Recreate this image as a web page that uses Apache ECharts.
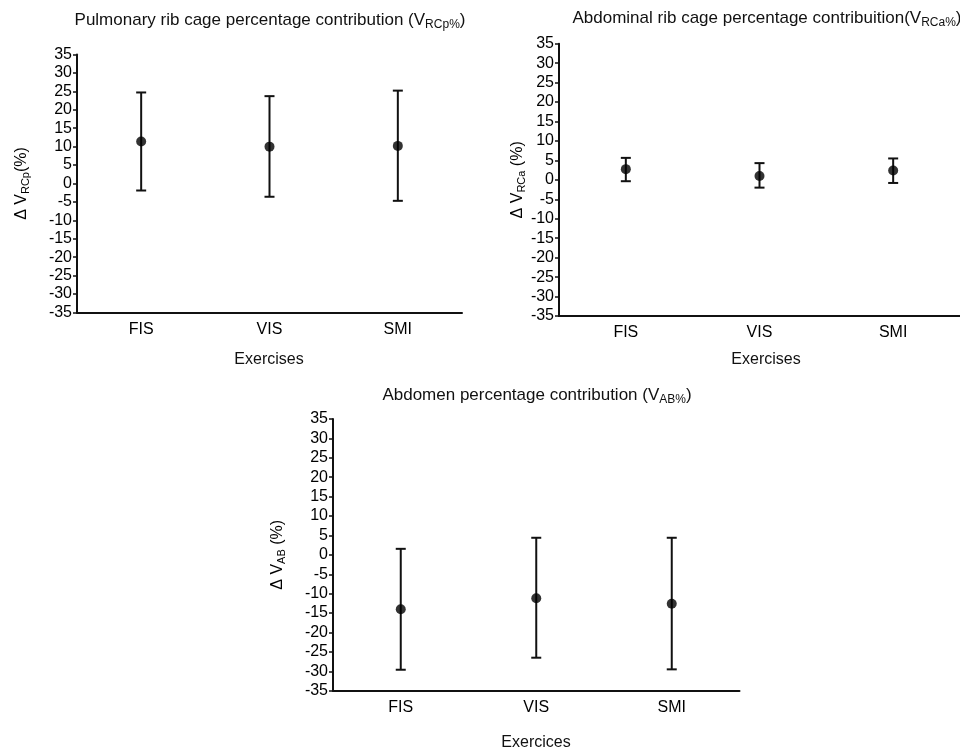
<!DOCTYPE html>
<html>
<head>
<meta charset="utf-8">
<script src="https://cdn.jsdelivr.net/npm/echarts@6/dist/echarts.min.js"></script>
<style>html,body{margin:0;padding:0;background:#fff}#c{width:960px;height:753px}</style>
</head>
<body>
<div id="c"></div>
<script>
const categories = ['FIS', 'VIS', 'SMI'];
const yTicks = { min: -35, max: 35, step: 5 };

const rcpMean = [11.4, 10.0, 10.2];
const rcpLow = [-1.9, -3.6, -4.7];
const rcpHigh = [24.7, 23.7, 25.2];

const rcaMean = [2.75, 1.0, 2.4];
const rcaLow = [-0.35, -2.0, -0.8];
const rcaHigh = [5.65, 4.3, 5.5];

const abMean = [-14.0, -11.2, -12.6];
const abLow = [-29.6, -26.5, -29.5];
const abHigh = [1.55, 4.4, 4.4];

const FONT = 'Liberation Sans, Arial, sans-serif';
const chart = echarts.init(document.getElementById('c'), null, { renderer: 'canvas' });

const grids = [
  { left: 77, top: 54.5, width: 385, height: 258 },
  { left: 559, top: 43.7, width: 410, height: 272.3 },
  { left: 333, top: 419, width: 406.5, height: 271.7 }
];

const titles = [
  { text: 'Pulmonary rib cage percentage contribution (V{s|RCp%})', x: 270, y: 20 },
  { text: 'Abdominal rib cage percentage contribuition(V{s|RCa%})', x: 767, y: 18 },
  { text: 'Abdomen percentage contribution (V{s|AB%})', x: 537, y: 395 }
];
const yNames = ['Δ V{s|RCp}(%)', 'Δ V{s|RCa} (%)', 'Δ V{s|AB} (%)'];
const xNames = ['Exercises', 'Exercises', 'Exercices'];
const xNameY = [360, 360, 743];
const xNameX = [269, 766, 536];
const yNameGap = [46, 28, 46];

const datasets = [
  [rcpMean, rcpLow, rcpHigh],
  [rcaMean, rcaLow, rcaHigh],
  [abMean, abLow, abHigh]
];

const xAxes = [], yAxes = [], series = [], graphics = [];
grids.forEach((g, i) => {
  xAxes.push({
    type: 'category', gridIndex: i, data: categories, boundaryGap: true,
    axisLine: { onZero: false, lineStyle: { color: '#111', width: 2 } },
    axisTick: { alignWithLabel: true, length: 4, lineStyle: { color: '#111', width: 1.5 } },
    axisLabel: { color: '#000', fontSize: 16, fontFamily: FONT, margin: 9 },
    splitLine: { show: false }
  });
  yAxes.push({
    type: 'value', gridIndex: i, min: yTicks.min, max: yTicks.max, interval: yTicks.step,
    axisLine: { show: true, onZero: false, lineStyle: { color: '#111', width: 2 } },
    axisTick: { show: true, length: 4, lineStyle: { color: '#111', width: 1.5 } },
    axisLabel: { color: '#000', fontSize: 16, fontFamily: FONT, margin: 5 },
    splitLine: { show: false },
    name: yNames[i], nameLocation: 'middle', nameGap: yNameGap[i], nameRotate: 90,
    nameTextStyle: {
      color: '#000', fontSize: 16, fontFamily: FONT,
      rich: { s: { fontSize: 11, fontFamily: FONT, color: '#000', verticalAlign: 'bottom', padding: [7, 0, 0, 0] } }
    }
  });
  const [mean, low, high] = datasets[i];
  series.push({
    type: 'custom', xAxisIndex: i, yAxisIndex: i,
    data: categories.map((c, k) => [k, low[k], high[k]]),
    renderItem: function (params, api) {
      const x = api.value(0);
      const p1 = api.coord([x, api.value(1)]);
      const p2 = api.coord([x, api.value(2)]);
      const hw = 5;
      const st = { stroke: '#111', lineWidth: 2 };
      return {
        type: 'group', children: [
          { type: 'line', shape: { x1: p1[0], y1: p1[1], x2: p2[0], y2: p2[1] }, style: st },
          { type: 'line', shape: { x1: p1[0] - hw, y1: p1[1], x2: p1[0] + hw, y2: p1[1] }, style: st },
          { type: 'line', shape: { x1: p2[0] - hw, y1: p2[1], x2: p2[0] + hw, y2: p2[1] }, style: st }
        ]
      };
    },
    silent: true, z: 2
  });
  series.push({
    type: 'scatter', xAxisIndex: i, yAxisIndex: i,
    data: mean.map((v, k) => [k, v]),
    symbol: 'circle', symbolSize: 10,
    itemStyle: { color: '#000' }, silent: true, z: 3
  });
  graphics.push({
    type: 'text', position: [titles[i].x, titles[i].y],
    style: {
      text: titles[i].text, align: 'center', verticalAlign: 'middle',
      fill: '#111', font: '17px ' + FONT,
      rich: { s: { fontSize: 12, fontFamily: FONT, fill: '#111', verticalAlign: 'bottom', padding: [9, 0, 0, 0] } }
    }
  });
  graphics.push({
    type: 'text', position: [xNameX[i], xNameY[i]],
    style: { text: xNames[i], align: 'center', verticalAlign: 'middle', fill: '#111', font: '16px ' + FONT }
  });
});

chart.setOption({
  animation: false,
  backgroundColor: '#fff',
  grid: grids,
  xAxis: xAxes,
  yAxis: yAxes,
  series: series,
  graphic: graphics
});
</script>
</body>
</html>
